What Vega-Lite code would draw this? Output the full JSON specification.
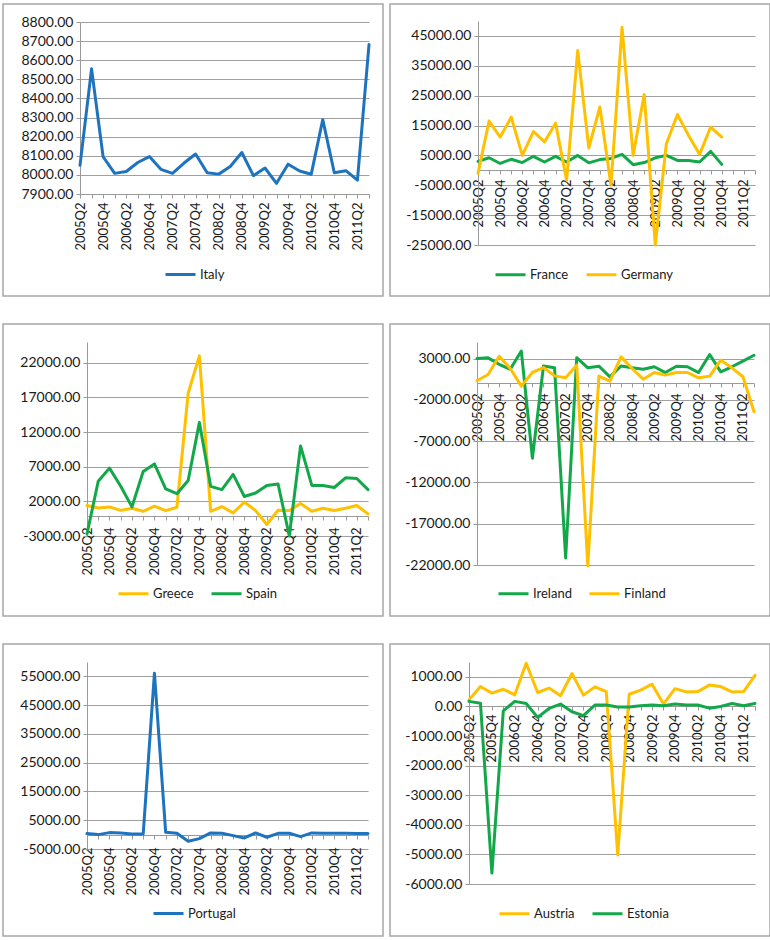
{
  "$schema": "https://vega.github.io/schema/vega-lite/v6.json",
  "background": "white",
  "padding": {"left": 2, "top": 3, "right": 0, "bottom": 0},
  "config": {
    "locale": {"number": {"decimal": ".", "thousands": ",", "grouping": [3], "currency": ["$", ""], "minus": "-"}},
    "view": {"stroke": "#a6a6a6", "strokeWidth": 1.5},
    "axis": {"labelFont": "Lato", "labelColor": "#1a1a1a", "domainColor": "#9a9a9a", "tickColor": "#9a9a9a", "gridColor": "#a0a0a0", "gridWidth": 1, "domainWidth": 1},
    "axisX": {"grid": false, "labelAngle": -90, "labelFontSize": 13, "tickSize": 4, "labelOverlap": false, "labelBound": false},
    "axisY": {"grid": true, "labelFontSize": 14, "tickSize": 4, "labelPadding": 3, "format": ".2f"},
    "legend": {"labelFont": "Lato", "labelFontSize": 13, "labelColor": "#1a1a1a", "symbolType": "stroke", "symbolSize": 900, "symbolStrokeWidth": 3.5, "labelOffset": 3, "columnPadding": 16, "padding": 0, "offset": 0, "direction": "horizontal"},
    "line": {"strokeWidth": 3, "strokeJoin": "round", "strokeCap": "round"}
  },
  "spacing": 26,
  "resolve": {"scale": {"color": "independent"}, "legend": {"color": "independent"}},
  "vconcat": [
    {
      "spacing": 5,
      "resolve": {"scale": {"color": "independent"}, "legend": {"color": "independent"}},
      "hconcat": [
        {
          "width": 380, "height": 292,
          "data": {"values": [
            {"q":"2005Q2","c":"Italy","v":8050},{"q":"2005Q3","c":"Italy","v":8555},{"q":"2005Q4","c":"Italy","v":8095},{"q":"2006Q1","c":"Italy","v":8008},{"q":"2006Q2","c":"Italy","v":8018},{"q":"2006Q3","c":"Italy","v":8065},{"q":"2006Q4","c":"Italy","v":8096},{"q":"2007Q1","c":"Italy","v":8029},{"q":"2007Q2","c":"Italy","v":8008},{"q":"2007Q3","c":"Italy","v":8062},{"q":"2007Q4","c":"Italy","v":8109},{"q":"2008Q1","c":"Italy","v":8011},{"q":"2008Q2","c":"Italy","v":8004},{"q":"2008Q3","c":"Italy","v":8044},{"q":"2008Q4","c":"Italy","v":8117},{"q":"2009Q1","c":"Italy","v":7996},{"q":"2009Q2","c":"Italy","v":8036},{"q":"2009Q3","c":"Italy","v":7956},{"q":"2009Q4","c":"Italy","v":8056},{"q":"2010Q1","c":"Italy","v":8020},{"q":"2010Q2","c":"Italy","v":8003},{"q":"2010Q3","c":"Italy","v":8289},{"q":"2010Q4","c":"Italy","v":8011},{"q":"2011Q1","c":"Italy","v":8022},{"q":"2011Q2","c":"Italy","v":7973},{"q":"2011Q3","c":"Italy","v":8682}
          ]},
          "mark": {"type": "line"},
          "encoding": {
            "x": {"field": "q", "type": "ordinal", "title": null,
              "scale": {"type": "point", "padding": 0, "range": [77, 366], "domain": ["2005Q2","2005Q3","2005Q4","2006Q1","2006Q2","2006Q3","2006Q4","2007Q1","2007Q2","2007Q3","2007Q4","2008Q1","2008Q2","2008Q3","2008Q4","2009Q1","2009Q2","2009Q3","2009Q4","2010Q1","2010Q2","2010Q3","2010Q4","2011Q1","2011Q2","2011Q3"]},
              "axis": {"offset": -102, "labelPadding": 4, "labelExpr": "(substring(datum.label,5,6)=='2'||substring(datum.label,5,6)=='4') ? datum.label : ''"}},
            "y": {"field": "v", "type": "quantitative", "title": null,
              "scale": {"domain": [7900, 8800], "range": [190, 18], "nice": false, "zero": false},
              "axis": {"offset": -77, "values": [7900, 8000, 8100, 8200, 8300, 8400, 8500, 8600, 8700, 8800]}},
            "color": {"field": "c", "type": "nominal", "scale": {"domain": ["Italy"], "range": ["#1e73be"]},
              "legend": {"title": null, "orient": "none", "offset": 0, "legendX": 161, "legendY": 254}}
          }
        },
        {
          "width": 380, "height": 292,
          "data": {"values": [
            {"q":"2005Q2","c":"France","v":3000},{"q":"2005Q3","c":"France","v":4200},{"q":"2005Q4","c":"France","v":2300},{"q":"2006Q1","c":"France","v":3700},{"q":"2006Q2","c":"France","v":2600},{"q":"2006Q3","c":"France","v":4700},{"q":"2006Q4","c":"France","v":2800},{"q":"2007Q1","c":"France","v":4700},{"q":"2007Q2","c":"France","v":2800},{"q":"2007Q3","c":"France","v":5000},{"q":"2007Q4","c":"France","v":2500},{"q":"2008Q1","c":"France","v":3600},{"q":"2008Q2","c":"France","v":4000},{"q":"2008Q3","c":"France","v":5350},{"q":"2008Q4","c":"France","v":1900},{"q":"2009Q1","c":"France","v":2600},{"q":"2009Q2","c":"France","v":4200},{"q":"2009Q3","c":"France","v":5000},{"q":"2009Q4","c":"France","v":3300},{"q":"2010Q1","c":"France","v":3300},{"q":"2010Q2","c":"France","v":2800},{"q":"2010Q3","c":"France","v":6350},{"q":"2010Q4","c":"France","v":2000},
            {"q":"2005Q2","c":"Germany","v":-1000},{"q":"2005Q3","c":"Germany","v":16500},{"q":"2005Q4","c":"Germany","v":11150},{"q":"2006Q1","c":"Germany","v":17800},{"q":"2006Q2","c":"Germany","v":5000},{"q":"2006Q3","c":"Germany","v":13000},{"q":"2006Q4","c":"Germany","v":9500},{"q":"2007Q1","c":"Germany","v":15800},{"q":"2007Q2","c":"Germany","v":-3300},{"q":"2007Q3","c":"Germany","v":40100},{"q":"2007Q4","c":"Germany","v":7500},{"q":"2008Q1","c":"Germany","v":21200},{"q":"2008Q2","c":"Germany","v":-5000},{"q":"2008Q3","c":"Germany","v":47900},{"q":"2008Q4","c":"Germany","v":5000},{"q":"2009Q1","c":"Germany","v":25400},{"q":"2009Q2","c":"Germany","v":-25000},{"q":"2009Q3","c":"Germany","v":8900},{"q":"2009Q4","c":"Germany","v":18700},{"q":"2010Q1","c":"Germany","v":11700},{"q":"2010Q2","c":"Germany","v":5350},{"q":"2010Q3","c":"Germany","v":14500},{"q":"2010Q4","c":"Germany","v":11150}
          ]},
          "mark": {"type": "line"},
          "encoding": {
            "x": {"field": "q", "type": "ordinal", "title": null,
              "scale": {"type": "point", "padding": 0, "range": [88, 365], "domain": ["2005Q2","2005Q3","2005Q4","2006Q1","2006Q2","2006Q3","2006Q4","2007Q1","2007Q2","2007Q3","2007Q4","2008Q1","2008Q2","2008Q3","2008Q4","2009Q1","2009Q2","2009Q3","2009Q4","2010Q1","2010Q2","2010Q3","2010Q4","2011Q1","2011Q2","2011Q3"]},
              "axis": {"offset": -126, "labelPadding": 5, "labelExpr": "(substring(datum.label,5,6)=='2'||substring(datum.label,5,6)=='4') ? datum.label : ''"}},
            "y": {"field": "v", "type": "quantitative", "title": null,
              "scale": {"domain": [-25000, 50000], "range": [241, 17], "nice": false, "zero": false},
              "axis": {"offset": -88, "values": [-25000, -15000, -5000, 5000, 15000, 25000, 35000, 45000]}},
            "color": {"field": "c", "type": "nominal", "scale": {"domain": ["France", "Germany"], "range": ["#12a84a", "#ffc000"]},
              "legend": {"title": null, "orient": "none", "offset": 0, "legendX": 104, "legendY": 254}}
          }
        }
      ]
    },
    {
      "spacing": 5,
      "resolve": {"scale": {"color": "independent"}, "legend": {"color": "independent"}},
      "hconcat": [
        {
          "width": 380, "height": 292,
          "data": {"values": [
            {"q":"2005Q2","c":"Greece","v":1400},{"q":"2005Q3","c":"Greece","v":1050},{"q":"2005Q4","c":"Greece","v":1200},{"q":"2006Q1","c":"Greece","v":700},{"q":"2006Q2","c":"Greece","v":1000},{"q":"2006Q3","c":"Greece","v":570},{"q":"2006Q4","c":"Greece","v":1300},{"q":"2007Q1","c":"Greece","v":670},{"q":"2007Q2","c":"Greece","v":1150},{"q":"2007Q3","c":"Greece","v":17600},{"q":"2007Q4","c":"Greece","v":23000},{"q":"2008Q1","c":"Greece","v":570},{"q":"2008Q2","c":"Greece","v":1250},{"q":"2008Q3","c":"Greece","v":330},{"q":"2008Q4","c":"Greece","v":1900},{"q":"2009Q1","c":"Greece","v":670},{"q":"2009Q2","c":"Greece","v":-1340},{"q":"2009Q3","c":"Greece","v":720},{"q":"2009Q4","c":"Greece","v":670},{"q":"2010Q1","c":"Greece","v":1680},{"q":"2010Q2","c":"Greece","v":570},{"q":"2010Q3","c":"Greece","v":1000},{"q":"2010Q4","c":"Greece","v":670},{"q":"2011Q1","c":"Greece","v":1000},{"q":"2011Q2","c":"Greece","v":1400},{"q":"2011Q3","c":"Greece","v":190},
            {"q":"2005Q2","c":"Spain","v":-2700},{"q":"2005Q3","c":"Spain","v":4900},{"q":"2005Q4","c":"Spain","v":6800},{"q":"2006Q1","c":"Spain","v":4170},{"q":"2006Q2","c":"Spain","v":1200},{"q":"2006Q3","c":"Spain","v":6300},{"q":"2006Q4","c":"Spain","v":7400},{"q":"2007Q1","c":"Spain","v":3800},{"q":"2007Q2","c":"Spain","v":3100},{"q":"2007Q3","c":"Spain","v":5000},{"q":"2007Q4","c":"Spain","v":13400},{"q":"2008Q1","c":"Spain","v":4170},{"q":"2008Q2","c":"Spain","v":3700},{"q":"2008Q3","c":"Spain","v":5900},{"q":"2008Q4","c":"Spain","v":2700},{"q":"2009Q1","c":"Spain","v":3200},{"q":"2009Q2","c":"Spain","v":4300},{"q":"2009Q3","c":"Spain","v":4500},{"q":"2009Q4","c":"Spain","v":-3000},{"q":"2010Q1","c":"Spain","v":10000},{"q":"2010Q2","c":"Spain","v":4300},{"q":"2010Q3","c":"Spain","v":4300},{"q":"2010Q4","c":"Spain","v":4000},{"q":"2011Q1","c":"Spain","v":5400},{"q":"2011Q2","c":"Spain","v":5300},{"q":"2011Q3","c":"Spain","v":3700}
          ]},
          "mark": {"type": "line"},
          "encoding": {
            "x": {"field": "q", "type": "ordinal", "title": null,
              "scale": {"type": "point", "padding": 0, "range": [84, 365], "domain": ["2005Q2","2005Q3","2005Q4","2006Q1","2006Q2","2006Q3","2006Q4","2007Q1","2007Q2","2007Q3","2007Q4","2008Q1","2008Q2","2008Q3","2008Q4","2009Q1","2009Q2","2009Q3","2009Q4","2010Q1","2010Q2","2010Q3","2010Q4","2011Q1","2011Q2","2011Q3"]},
              "axis": {"offset": -100, "labelPadding": 7, "labelExpr": "(substring(datum.label,5,6)=='2'||substring(datum.label,5,6)=='4') ? datum.label : ''"}},
            "y": {"field": "v", "type": "quantitative", "title": null,
              "scale": {"domain": [-3000, 25000], "range": [212, 18], "nice": false, "zero": false},
              "axis": {"offset": -84, "values": [-3000, 2000, 7000, 12000, 17000, 22000]}},
            "color": {"field": "c", "type": "nominal", "scale": {"domain": ["Greece", "Spain"], "range": ["#ffc000", "#12a84a"]},
              "legend": {"title": null, "orient": "none", "offset": 0, "legendX": 114, "legendY": 253}}
          }
        },
        {
          "width": 380, "height": 292,
          "data": {"values": [
            {"q":"2005Q2","c":"Ireland","v":3000},{"q":"2005Q3","c":"Ireland","v":3080},{"q":"2005Q4","c":"Ireland","v":2300},{"q":"2006Q1","c":"Ireland","v":1700},{"q":"2006Q2","c":"Ireland","v":3900},{"q":"2006Q3","c":"Ireland","v":-9070},{"q":"2006Q4","c":"Ireland","v":2100},{"q":"2007Q1","c":"Ireland","v":1870},{"q":"2007Q2","c":"Ireland","v":-21150},{"q":"2007Q3","c":"Ireland","v":3100},{"q":"2007Q4","c":"Ireland","v":1870},{"q":"2008Q1","c":"Ireland","v":2070},{"q":"2008Q2","c":"Ireland","v":780},{"q":"2008Q3","c":"Ireland","v":2100},{"q":"2008Q4","c":"Ireland","v":1870},{"q":"2009Q1","c":"Ireland","v":1700},{"q":"2009Q2","c":"Ireland","v":2000},{"q":"2009Q3","c":"Ireland","v":1300},{"q":"2009Q4","c":"Ireland","v":2070},{"q":"2010Q1","c":"Ireland","v":2000},{"q":"2010Q2","c":"Ireland","v":1300},{"q":"2010Q3","c":"Ireland","v":3480},{"q":"2010Q4","c":"Ireland","v":1390},{"q":"2011Q1","c":"Ireland","v":2000},{"q":"2011Q2","c":"Ireland","v":2680},{"q":"2011Q3","c":"Ireland","v":3400},
            {"q":"2005Q2","c":"Finland","v":300},{"q":"2005Q3","c":"Finland","v":1070},{"q":"2005Q4","c":"Finland","v":3280},{"q":"2006Q1","c":"Finland","v":1790},{"q":"2006Q2","c":"Finland","v":-340},{"q":"2006Q3","c":"Finland","v":1310},{"q":"2006Q4","c":"Finland","v":1910},{"q":"2007Q1","c":"Finland","v":900},{"q":"2007Q2","c":"Finland","v":660},{"q":"2007Q3","c":"Finland","v":2190},{"q":"2007Q4","c":"Finland","v":-22100},{"q":"2008Q1","c":"Finland","v":870},{"q":"2008Q2","c":"Finland","v":260},{"q":"2008Q3","c":"Finland","v":3200},{"q":"2008Q4","c":"Finland","v":1790},{"q":"2009Q1","c":"Finland","v":500},{"q":"2009Q2","c":"Finland","v":1310},{"q":"2009Q3","c":"Finland","v":990},{"q":"2009Q4","c":"Finland","v":1310},{"q":"2010Q1","c":"Finland","v":1310},{"q":"2010Q2","c":"Finland","v":660},{"q":"2010Q3","c":"Finland","v":870},{"q":"2010Q4","c":"Finland","v":2800},{"q":"2011Q1","c":"Finland","v":1870},{"q":"2011Q2","c":"Finland","v":790},{"q":"2011Q3","c":"Finland","v":-3440}
          ]},
          "mark": {"type": "line"},
          "encoding": {
            "x": {"field": "q", "type": "ordinal", "title": null,
              "scale": {"type": "point", "padding": 0, "range": [87, 364], "domain": ["2005Q2","2005Q3","2005Q4","2006Q1","2006Q2","2006Q3","2006Q4","2007Q1","2007Q2","2007Q3","2007Q4","2008Q1","2008Q2","2008Q3","2008Q4","2009Q1","2009Q2","2009Q3","2009Q4","2010Q1","2010Q2","2010Q3","2010Q4","2011Q1","2011Q2","2011Q3"]},
              "axis": {"offset": -233, "labelPadding": 6, "labelExpr": "(substring(datum.label,5,6)=='2'||substring(datum.label,5,6)=='4') ? datum.label : ''"}},
            "y": {"field": "v", "type": "quantitative", "title": null,
              "scale": {"domain": [-22000, 5000], "range": [241, 18], "nice": false, "zero": false},
              "axis": {"offset": -87, "values": [-22000, -17000, -12000, -7000, -2000, 3000]}},
            "color": {"field": "c", "type": "nominal", "scale": {"domain": ["Ireland", "Finland"], "range": ["#12a84a", "#ffc000"]},
              "legend": {"title": null, "orient": "none", "offset": 0, "legendX": 107, "legendY": 253}}
          }
        }
      ]
    },
    {
      "spacing": 5,
      "resolve": {"scale": {"color": "independent"}, "legend": {"color": "independent"}},
      "hconcat": [
        {
          "width": 380, "height": 292,
          "data": {"values": [
            {"q":"2005Q2","c":"Portugal","v":350},{"q":"2005Q3","c":"Portugal","v":0},{"q":"2005Q4","c":"Portugal","v":700},{"q":"2006Q1","c":"Portugal","v":580},{"q":"2006Q2","c":"Portugal","v":230},{"q":"2006Q3","c":"Portugal","v":230},{"q":"2006Q4","c":"Portugal","v":56100},{"q":"2007Q1","c":"Portugal","v":800},{"q":"2007Q2","c":"Portugal","v":460},{"q":"2007Q3","c":"Portugal","v":-2300},{"q":"2007Q4","c":"Portugal","v":-1380},{"q":"2008Q1","c":"Portugal","v":580},{"q":"2008Q2","c":"Portugal","v":460},{"q":"2008Q3","c":"Portugal","v":-350},{"q":"2008Q4","c":"Portugal","v":-1150},{"q":"2009Q1","c":"Portugal","v":580},{"q":"2009Q2","c":"Portugal","v":-920},{"q":"2009Q3","c":"Portugal","v":460},{"q":"2009Q4","c":"Portugal","v":460},{"q":"2010Q1","c":"Portugal","v":-690},{"q":"2010Q2","c":"Portugal","v":580},{"q":"2010Q3","c":"Portugal","v":460},{"q":"2010Q4","c":"Portugal","v":460},{"q":"2011Q1","c":"Portugal","v":460},{"q":"2011Q2","c":"Portugal","v":350},{"q":"2011Q3","c":"Portugal","v":350}
          ]},
          "mark": {"type": "line"},
          "encoding": {
            "x": {"field": "q", "type": "ordinal", "title": null,
              "scale": {"type": "point", "padding": 0, "range": [84, 365], "domain": ["2005Q2","2005Q3","2005Q4","2006Q1","2006Q2","2006Q3","2006Q4","2007Q1","2007Q2","2007Q3","2007Q4","2008Q1","2008Q2","2008Q3","2008Q4","2009Q1","2009Q2","2009Q3","2009Q4","2010Q1","2010Q2","2010Q3","2010Q4","2011Q1","2011Q2","2011Q3"]},
              "axis": {"offset": -101, "labelPadding": 8, "labelExpr": "(substring(datum.label,5,6)=='2'||substring(datum.label,5,6)=='4') ? datum.label : ''"}},
            "y": {"field": "v", "type": "quantitative", "title": null,
              "scale": {"domain": [-5000, 60000], "range": [205, 18], "nice": false, "zero": false},
              "axis": {"offset": -84, "values": [-5000, 5000, 15000, 25000, 35000, 45000, 55000]}},
            "color": {"field": "c", "type": "nominal", "scale": {"domain": ["Portugal"], "range": ["#1e73be"]},
              "legend": {"title": null, "orient": "none", "offset": 0, "legendX": 149, "legendY": 253}}
          }
        },
        {
          "width": 380, "height": 292,
          "data": {"values": [
            {"q":"2005Q2","c":"Austria","v":220},{"q":"2005Q3","c":"Austria","v":670},{"q":"2005Q4","c":"Austria","v":450},{"q":"2006Q1","c":"Austria","v":580},{"q":"2006Q2","c":"Austria","v":390},{"q":"2006Q3","c":"Austria","v":1460},{"q":"2006Q4","c":"Austria","v":470},{"q":"2007Q1","c":"Austria","v":620},{"q":"2007Q2","c":"Austria","v":360},{"q":"2007Q3","c":"Austria","v":1110},{"q":"2007Q4","c":"Austria","v":380},{"q":"2008Q1","c":"Austria","v":660},{"q":"2008Q2","c":"Austria","v":500},{"q":"2008Q3","c":"Austria","v":-5020},{"q":"2008Q4","c":"Austria","v":410},{"q":"2009Q1","c":"Austria","v":550},{"q":"2009Q2","c":"Austria","v":750},{"q":"2009Q3","c":"Austria","v":80},{"q":"2009Q4","c":"Austria","v":600},{"q":"2010Q1","c":"Austria","v":490},{"q":"2010Q2","c":"Austria","v":500},{"q":"2010Q3","c":"Austria","v":720},{"q":"2010Q4","c":"Austria","v":670},{"q":"2011Q1","c":"Austria","v":490},{"q":"2011Q2","c":"Austria","v":500},{"q":"2011Q3","c":"Austria","v":1050},
            {"q":"2005Q2","c":"Estonia","v":170},{"q":"2005Q3","c":"Estonia","v":110},{"q":"2005Q4","c":"Estonia","v":-5630},{"q":"2006Q1","c":"Estonia","v":-150},{"q":"2006Q2","c":"Estonia","v":170},{"q":"2006Q3","c":"Estonia","v":100},{"q":"2006Q4","c":"Estonia","v":-370},{"q":"2007Q1","c":"Estonia","v":-70},{"q":"2007Q2","c":"Estonia","v":80},{"q":"2007Q3","c":"Estonia","v":-180},{"q":"2007Q4","c":"Estonia","v":-310},{"q":"2008Q1","c":"Estonia","v":45},{"q":"2008Q2","c":"Estonia","v":45},{"q":"2008Q3","c":"Estonia","v":-20},{"q":"2008Q4","c":"Estonia","v":-20},{"q":"2009Q1","c":"Estonia","v":20},{"q":"2009Q2","c":"Estonia","v":45},{"q":"2009Q3","c":"Estonia","v":20},{"q":"2009Q4","c":"Estonia","v":80},{"q":"2010Q1","c":"Estonia","v":45},{"q":"2010Q2","c":"Estonia","v":45},{"q":"2010Q3","c":"Estonia","v":-60},{"q":"2010Q4","c":"Estonia","v":0},{"q":"2011Q1","c":"Estonia","v":100},{"q":"2011Q2","c":"Estonia","v":20},{"q":"2011Q3","c":"Estonia","v":100}
          ]},
          "mark": {"type": "line"},
          "encoding": {
            "x": {"field": "q", "type": "ordinal", "title": null,
              "scale": {"type": "point", "padding": 0, "range": [79, 365], "domain": ["2005Q2","2005Q3","2005Q4","2006Q1","2006Q2","2006Q3","2006Q4","2007Q1","2007Q2","2007Q3","2007Q4","2008Q1","2008Q2","2008Q3","2008Q4","2009Q1","2009Q2","2009Q3","2009Q4","2010Q1","2010Q2","2010Q3","2010Q4","2011Q1","2011Q2","2011Q3"]},
              "axis": {"offset": -230, "labelPadding": 4, "labelExpr": "(substring(datum.label,5,6)=='2'||substring(datum.label,5,6)=='4') ? datum.label : ''"}},
            "y": {"field": "v", "type": "quantitative", "title": null,
              "scale": {"domain": [-6000, 1500], "range": [240, 18], "nice": false, "zero": false},
              "axis": {"offset": -79, "values": [-6000, -5000, -4000, -3000, -2000, -1000, 0, 1000]}},
            "color": {"field": "c", "type": "nominal", "scale": {"domain": ["Austria", "Estonia"], "range": ["#ffc000", "#12a84a"]},
              "legend": {"title": null, "orient": "none", "offset": 0, "legendX": 108, "legendY": 253}}
          }
        }
      ]
    }
  ]
}
